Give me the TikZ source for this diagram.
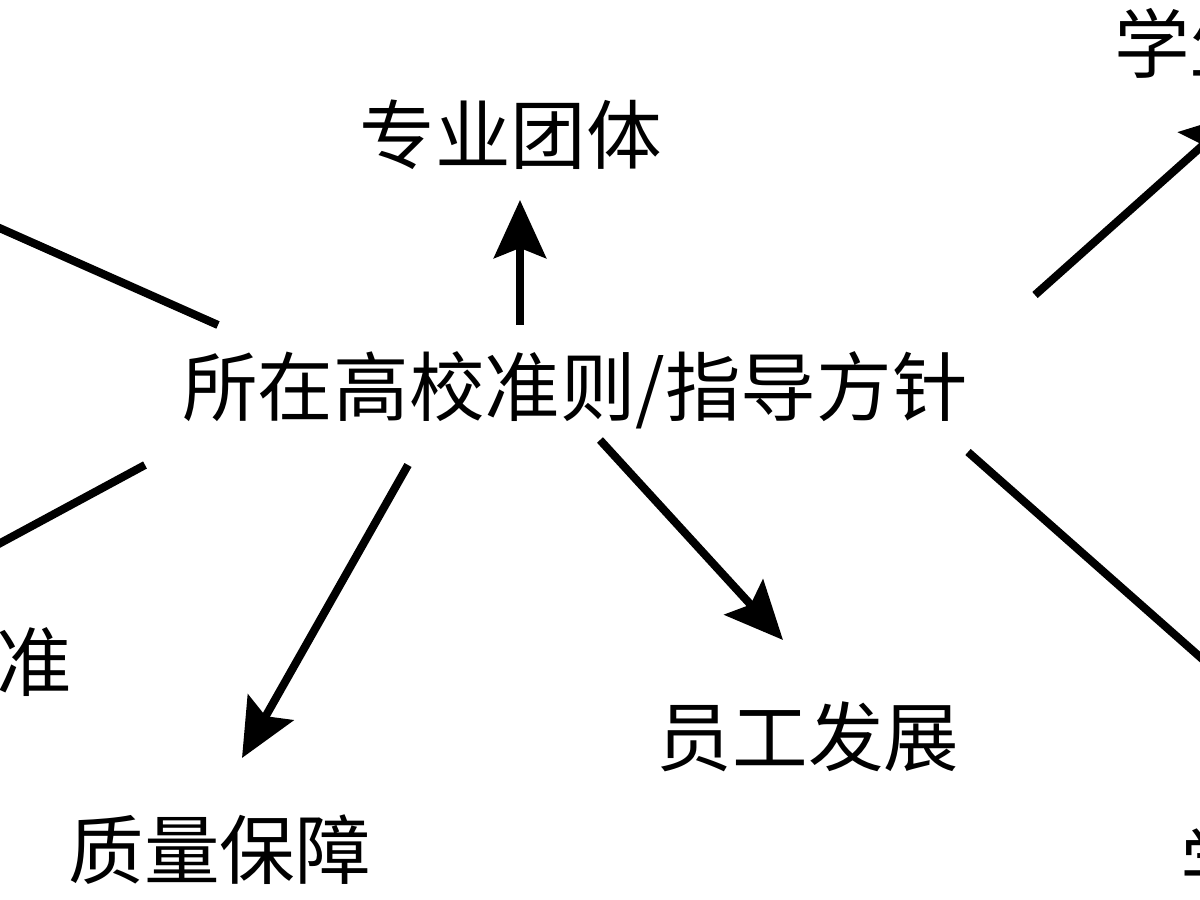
\documentclass[tikz,border=0pt]{standalone}
\usepackage{fontspec}
\newfontfamily\cjk{Noto Sans CJK SC}
\usetikzlibrary{arrows.meta}

\begin{document}
\begin{tikzpicture}[every node/.style={font=\cjk\fontsize{21.5}{26}\selectfont, inner sep=0pt}, >={Stealth[length=5.8mm, width=5.2mm, inset=1mm]}, line width=2.3pt]
	\useasboundingbox (0,0) rectangle (12,9);
	\node (ctr) at (5.75,5.10) {所在高校准则/指导方针};
	\node (prof) at (5.11,7.65) {专业团体};
	\node (qa) at (2.20,0.50) {质量保障};
	\node (staff) at (8.08,1.63) {员工发展};
	\node[anchor=west] (stu) at (11.10,8.57) {学生};
	\node[anchor=east] (std) at (0.76,2.34) {/准};
	\node[anchor=west] (stub) at (11.76,0.38) {学};
	% start points round the centre text, far ends off the frame
	\coordinate (s1) at (5.20,5.75);  \coordinate (e1) at (5.20,7.00);
	\coordinate (s2) at (4.08,4.35);  \coordinate (e2) at (2.42,1.42);
	\coordinate (s3) at (6.00,4.60);  \coordinate (e3) at (7.83,2.60);
	\coordinate (s4) at (10.35,6.05); \coordinate (e4) at (12.39,7.87);
	\coordinate (s5) at (9.68,4.48);  \coordinate (e5) at (13.2,1.37);
	\coordinate (s6) at (2.18,5.75);  \coordinate (e6) at (-1.2,7.25);
	\coordinate (s7) at (1.45,4.35);  \coordinate (e7) at (-1.2,2.92);
	\draw[->] (s1) -- (e1);
	\draw[->] (s2) -- (e2);
	\draw[->] (s3) -- (e3);
	\draw[->] (s4) -- (e4);
	\draw[->] (s5) -- (e5);
	\draw[->] (s6) -- (e6);
	\draw[->] (s7) -- (e7);
\end{tikzpicture}
\end{document}
